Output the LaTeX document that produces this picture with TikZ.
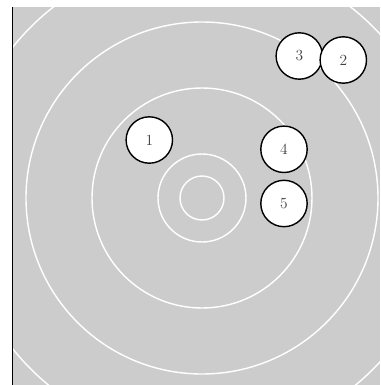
\documentclass[tikz,border=0pt]{standalone}
\usepackage{tikz}
\usepackage{xcolor}
\definecolor{targetgray}{RGB}{204,204,204}

\begin{document}
\begin{tikzpicture}[
    x=0.55cm, y=0.55cm,
    font=\fontsize{11}{13}\selectfont,
    board/.style={fill=targetgray, draw=none},
    ring/.style={draw=white, line width=1pt},
    edge/.style={draw=black, line width=0.5pt},
    shot/.style={circle, draw=black, line width=1pt, fill=white,
                 minimum size=1.16cm, inner sep=0pt, text=black!75},
  ]
  \useasboundingbox (-9.182,-8.5) rectangle (8.091,9.0);
  % target
  \fill[board] (-8.636,-8.5) rectangle (8.091,8.682);
  \begin{scope}
    \clip (-8.636,-8.5) rectangle (8.091,8.682);
    \foreach \r in {1,2,5,8,11}
      \draw[ring] (0,0) circle (\r);
  \end{scope}
  \draw[edge] (-8.636,-8.5) -- (-8.636,8.682);
  % shots
  \node[shot] (s1) at (-2.395,2.636) {1};
  \node[shot] (s3) at (4.423,6.455)  {3};
  \node[shot] (s2) at (6.423,6.273)  {2};
  \node[shot] (s4) at (3.727,2.214)  {4};
  \node[shot] (s5) at (3.727,-0.25)  {5};
\end{tikzpicture}
\end{document}
